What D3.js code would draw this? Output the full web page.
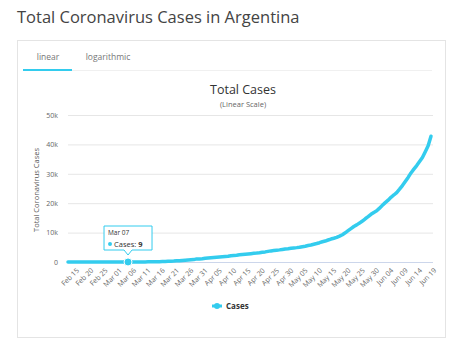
<!DOCTYPE html>
<html><head><meta charset="utf-8">
<script src="https://cdn.jsdelivr.net/npm/d3@7"></script>
<style>
body{margin:0;background:#fff;font-family:"Open Sans",sans-serif;}
svg{display:block}
</style></head>
<body><svg id="c" width="450" height="340"></svg>
<script>
const startDate = "2020-02-15";
const cases = [
0,0,0,0,0,0,0,0,0,0,0,0,0,0,0,0,0,
1,1,2,8,9,12,17,19,21,31,34,45,56,65,79,97,128,158,225,266,301,387,387,502,589,690,745,820,1054,
1054,1133,1265,1353,1451,1554,1628,1715,1795,1894,1975,2142,2208,2277,2443,2571,2669,2758,2839,2941,3031,3144,3288,3435,3607,3780,3892,4003,4127,4285,
4428,4532,4681,4783,4887,5020,5208,5371,5611,5776,6034,6278,6563,6879,7134,7479,7805,8068,8371,8809,9283,9931,10649,11353,12076,12628,13228,13933,14702,15419,16214,
16851,17415,18319,19268,20197,21037,22020,22794,23620,24761,25987,27373,28764,30295,31577,32785,34159,35552,37510,39570,42785
];
const yTicks = [0,10000,20000,30000,40000,50000];
const yTickLabels = ["0","10k","20k","30k","40k","50k"];
const tabs = ["linear","logarithmic"];
const tooltipIndex = 21;

const parse = d3.timeParse("%Y-%m-%d");
const t0 = parse(startDate);
const dates = cases.map((_,i)=>d3.timeDay.offset(t0,i));
const data = cases.map((v,i)=>({date:dates[i],value:v}));

const svg = d3.select("#c");
const blue = "#33CCEE";

svg.append("text").attr("x",17).attr("y",23).attr("font-size",16.5).attr("fill","#444")
  .text("Total Coronavirus Cases in Argentina");

svg.append("rect").attr("x",17.5).attr("y",40.5).attr("width",428).attr("height",297)
  .attr("fill","#fff").attr("stroke","#e4e4e4");

svg.append("line").attr("x1",23).attr("x2",432).attr("y1",70.5).attr("y2",70.5).attr("stroke","#f0f0f0");
const tabX=[48,108];
tabs.forEach((t,i)=>svg.append("text").attr("x",tabX[i]).attr("y",60).attr("text-anchor","middle")
  .attr("font-size",8.5).attr("fill","#777").text(t));
svg.append("rect").attr("x",23).attr("y",69).attr("width",49).attr("height",2).attr("fill",blue);

const x = d3.scaleTime().domain([dates[0],dates[dates.length-1]]).range([68,431]);
const y = d3.scaleLinear().domain([0,50000]).range([262,115]);

svg.append("text").attr("x",243).attr("y",94).attr("text-anchor","middle").attr("font-size",12.5).attr("fill","#333").text("Total Cases");
svg.append("text").attr("x",243).attr("y",107).attr("text-anchor","middle").attr("font-size",7.5).attr("fill","#666").text("(Linear Scale)");

const yAxis = svg.append("g").attr("transform","translate(68,0)")
  .call(d3.axisLeft(y).tickValues(yTicks).tickFormat((d,i)=>yTickLabels[i]).tickSize(-365).tickPadding(10));
yAxis.select(".domain").remove();
yAxis.selectAll("line").attr("stroke","#e6e6e6");
yAxis.selectAll("text").attr("font-size",7).attr("fill","#666").attr("font-family","Open Sans");

svg.append("text").attr("transform","translate(39,190) rotate(-90)").attr("text-anchor","middle")
  .attr("font-size",7.5).attr("fill","#555").text("Total Coronavirus Cases");

svg.append("line").attr("x1",68).attr("x2",433).attr("y1",262.5).attr("y2",262.5).attr("stroke","#ccd6eb");

const xTicks = d3.range(0,cases.length,5).map(i=>dates[i]);
const xAxis = svg.append("g").attr("transform","translate(0,262)")
  .call(d3.axisBottom(x).tickValues(xTicks).tickFormat(d3.timeFormat("%b %d")).tickSize(0).tickPadding(10));
xAxis.select(".domain").remove();
xAxis.selectAll("text").attr("font-size",7).attr("fill","#666").attr("font-family","Open Sans")
  .attr("text-anchor","end").attr("dx","0.2em").attr("dy","0.6em").attr("transform","rotate(-45)");

const line = d3.line().x(d=>x(d.date)).y(d=>y(d.value));
svg.append("path").datum(data).attr("d",line).attr("fill","none").attr("stroke",blue)
  .attr("stroke-width",3.5).attr("stroke-linejoin","round").attr("stroke-linecap","round");

// tooltip
const tp = data[tooltipIndex];
const px = x(tp.date), py = y(tp.value);
svg.append("circle").attr("cx",px).attr("cy",py).attr("r",4).attr("fill",blue).attr("stroke","#fff").attr("stroke-width",1);
const bx=px-24, by=226, bw=48, bh=24;
svg.append("path").attr("d",`M${bx},${by} H${bx+bw} V${by+bh} H${px+4} L${px},${by+bh+5} L${px-4},${by+bh} H${bx} Z`)
  .attr("fill","rgba(255,255,255,0.95)").attr("stroke",blue).attr("stroke-width",1);
svg.append("text").attr("x",bx+4).attr("y",by+9).attr("font-size",6.5).attr("fill","#333").text(d3.timeFormat("%b %d")(tp.date));
svg.append("circle").attr("cx",bx+6).attr("cy",by+18).attr("r",2).attr("fill",blue);
const tt = svg.append("text").attr("x",bx+10).attr("y",by+20.5).attr("font-size",7.5).attr("fill","#333");
tt.append("tspan").text("Cases: ");
tt.append("tspan").attr("font-weight","bold").text(tp.value);

// legend
svg.append("line").attr("x1",212).attr("x2",222).attr("y1",306).attr("y2",306).attr("stroke",blue).attr("stroke-width",3);
svg.append("circle").attr("cx",217).attr("cy",306).attr("r",3).attr("fill",blue);
svg.append("text").attr("x",226).attr("y",309).attr("font-size",8).attr("font-weight","bold").attr("fill","#333").text("Cases");
</script></body></html>
